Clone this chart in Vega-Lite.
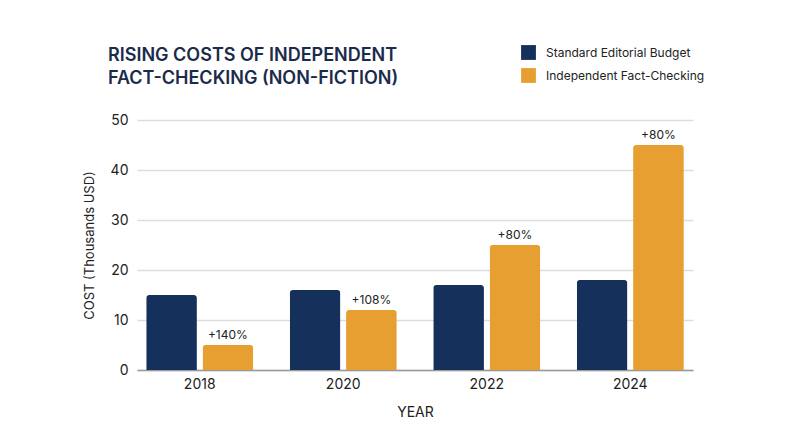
{
  "$schema": "https://vega.github.io/schema/vega-lite/v6.json",
  "autosize": {"type": "none"},
  "padding": {"left": 137, "top": 120, "right": 107, "bottom": 77},
  "width": 556,
  "height": 250,
  "background": "white",
  "config": {
    "font": "Inter",
    "view": {"stroke": null}
  },
  "title": {
    "text": ["RISING COSTS OF INDEPENDENT", "FACT-CHECKING (NON-FICTION)"],
    "anchor": "start",
    "frame": "group",
    "dx": -29,
    "offset": -43,
    "fontSize": 18,
    "fontWeight": 600,
    "lineHeight": 23,
    "color": "#1b2b4b",
    "font": "Inter"
  },
  "data": {
    "values": [
      {"year": "2018", "series": "Standard Editorial Budget", "cost": 15, "label": ""},
      {"year": "2018", "series": "Independent Fact-Checking", "cost": 5, "label": "+140%"},
      {"year": "2020", "series": "Standard Editorial Budget", "cost": 16, "label": ""},
      {"year": "2020", "series": "Independent Fact-Checking", "cost": 12, "label": "+108%"},
      {"year": "2022", "series": "Standard Editorial Budget", "cost": 17, "label": ""},
      {"year": "2022", "series": "Independent Fact-Checking", "cost": 25, "label": "+80%"},
      {"year": "2024", "series": "Standard Editorial Budget", "cost": 18, "label": ""},
      {"year": "2024", "series": "Independent Fact-Checking", "cost": 45, "label": "+80%"}
    ]
  },
  "encoding": {
    "x": {
      "field": "year",
      "type": "nominal",
      "scale": {"paddingInner": 0.254, "paddingOuter": 0.064},
      "axis": {
        "title": "YEAR",
        "labelAngle": 0,
        "labelFontSize": 14,
        "labelColor": "#222222",
        "labelPadding": 7,
        "ticks": false,
        "domainColor": "#999999",
        "domainWidth": 1.5,
        "titleFontSize": 14,
        "titleFontWeight": "normal",
        "titleColor": "#222222",
        "titlePadding": 14
      }
    },
    "xOffset": {
      "field": "series",
      "type": "nominal",
      "sort": ["Standard Editorial Budget", "Independent Fact-Checking"],
      "scale": {"paddingInner": 0.1}
    },
    "y": {
      "field": "cost",
      "type": "quantitative",
      "scale": {"domain": [0, 50]},
      "axis": {
        "title": "COST (Thousands USD)",
        "values": [0, 10, 20, 30, 40, 50],
        "labelFontSize": 14,
        "labelColor": "#222222",
        "labelPadding": 9,
        "ticks": false,
        "domain": false,
        "gridColor": "#dddddd",
        "gridWidth": 1.5,
        "titleFontSize": 13,
        "titleFontWeight": "normal",
        "titleColor": "#222222",
        "titlePadding": 14
      }
    }
  },
  "layer": [
    {
      "mark": {"type": "bar", "cornerRadiusTopLeft": 3, "cornerRadiusTopRight": 3},
      "encoding": {
        "color": {
          "field": "series",
          "type": "nominal",
          "sort": ["Standard Editorial Budget", "Independent Fact-Checking"],
          "scale": {
            "domain": ["Standard Editorial Budget", "Independent Fact-Checking"],
            "range": ["#15305a", "#e89f31"]
          },
          "legend": {
            "title": null,
            "orient": "none",
            "legendX": 384,
            "legendY": -75,
            "symbolType": "square",
            "symbolSize": 220,
            "symbolStrokeWidth": 0,
            "labelFontSize": 12,
            "labelLimit": 300,
            "labelColor": "#222222",
            "labelOffset": 10,
            "rowPadding": 8
          }
        }
      }
    },
    {
      "mark": {"type": "text", "baseline": "bottom", "dy": -3, "fontSize": 12, "color": "#222222"},
      "encoding": {
        "text": {"field": "label"}
      }
    }
  ]
}
